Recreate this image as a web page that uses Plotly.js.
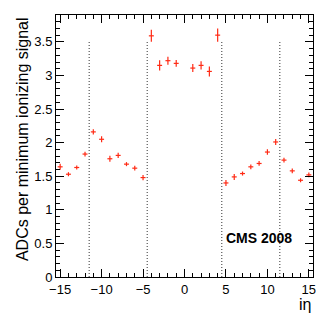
<!DOCTYPE html>
<html>
<head>
<meta charset="utf-8">
<script src="https://cdn.plot.ly/plotly-3.0.1.min.js"></script>
<style>html,body{margin:0;padding:0;background:#fff;}#chart{width:332px;height:319px;}</style>
</head>
<body>
<div id="chart"></div>
<script>
// ieta bins
const ieta = [-15,-14,-13,-12,-11,-10,-9,-8,-7,-6,-5,-4,-3,-2,-1,1,2,3,4,5,6,7,8,9,10,11,12,13,14,15];
// ADCs per minimum ionizing signal
const adc = [1.64,1.53,1.63,1.83,2.16,2.05,1.76,1.81,1.68,1.62,1.48,3.59,3.15,3.22,3.18,3.11,3.15,3.06,3.60,1.40,1.49,1.54,1.64,1.69,1.86,2.01,1.74,1.58,1.44,1.52];
// statistical errors
const adcErr = [0.045,0.03,0.03,0.035,0.04,0.045,0.045,0.04,0.03,0.035,0.04,0.09,0.075,0.06,0.05,0.06,0.06,0.075,0.1,0.045,0.045,0.03,0.035,0.035,0.04,0.045,0.035,0.035,0.03,0.035];
const binHalf = 0.3;
// region boundaries
const boundaries = [-11.5,-4.5,4.5,11.5];
const boundaryTop = 3.5;
const xTickVals = [-15,-10,-5,0,5,10,15];
const yTickVals = [0,0.5,1,1.5,2,2.5,3,3.5];

const traces = [];
boundaries.forEach(b => {
  traces.push({x:[b,b], y:[0,boundaryTop], mode:'lines', line:{color:'#333', width:1, dash:'1px,2px'}, hoverinfo:'skip', showlegend:false});
});
traces.push({
  x: ieta, y: adc, mode:'markers', type:'scatter',
  marker:{size:1, color:'rgba(255,40,20,0)'},
  error_y:{type:'data', array:adcErr, visible:true, color:'#ff2a14', thickness:1.2, width:0},
  error_x:{type:'constant', value:binHalf, visible:true, color:'#ff2a14', thickness:1.2, width:0},
  showlegend:false
});

const fontFam = 'Liberation Sans, Arial, Helvetica, sans-serif';
const layout = {
  width:332, height:319,
  margin:{l:56, r:19, t:15, b:42},
  paper_bgcolor:'#fff', plot_bgcolor:'#fff',
  font:{family:fontFam, color:'#000', size:13},
  xaxis:{
    range:[-15.5,15.5], tickvals:xTickVals, ticks:'inside', ticklen:8, tickwidth:1, tickcolor:'#000',
    minor:{dtick:1, tick0:0, ticks:'inside', ticklen:4, tickcolor:'#000', showgrid:false},
    showline:true, linecolor:'#000', linewidth:1, mirror:'allticks', showgrid:false, zeroline:false,
    tickfont:{size:13, family:fontFam}
  },
  yaxis:{
    range:[0,3.9], tickvals:yTickVals, ticktext:yTickVals.map(String), ticks:'inside', ticklen:8, tickwidth:1, tickcolor:'#000',
    minor:{dtick:0.1, tick0:0, ticks:'inside', ticklen:4, tickcolor:'#000', showgrid:false},
    showline:true, linecolor:'#000', linewidth:1, mirror:'allticks', showgrid:false, zeroline:false,
    tickfont:{size:13, family:fontFam}
  },
  annotations:[
    {text:'ADCs per minimum ionizing signal', xref:'paper', yref:'paper', x:-0.132, y:1, xanchor:'center', yanchor:'top', textangle:-90, showarrow:false, font:{size:16, family:fontFam}},
    {text:'iη', xref:'paper', yref:'paper', x:1.0, y:-0.105, xanchor:'right', yanchor:'middle', showarrow:false, font:{size:16, family:fontFam}},
    {text:'<b>CMS 2008</b>', xref:'paper', yref:'paper', x:0.655, y:0.148, xanchor:'left', yanchor:'middle', showarrow:false, font:{size:14, family:fontFam}}
  ]
};
Plotly.newPlot('chart', traces, layout, {staticPlot:true});
</script>
</body>
</html>
